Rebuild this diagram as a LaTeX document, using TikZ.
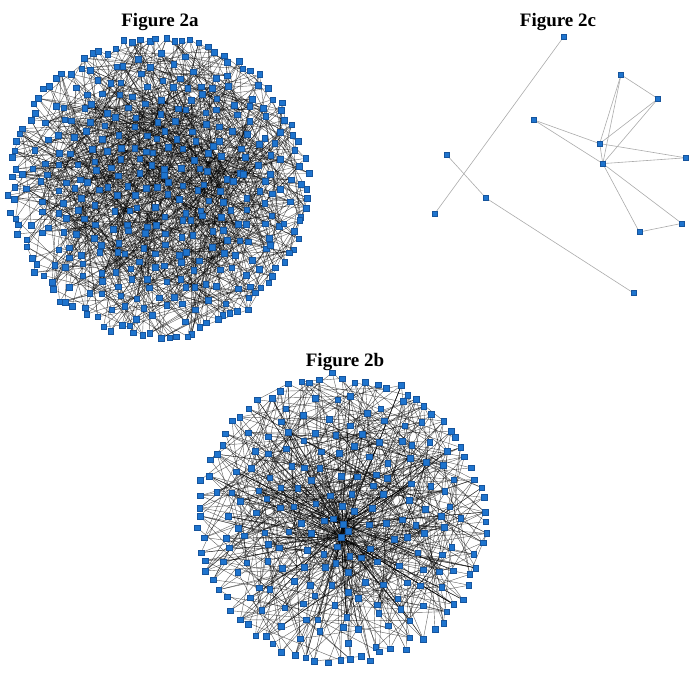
\documentclass[tikz,border=0pt]{standalone}
\usepackage{fontspec}
\setmainfont{Liberation Serif}
\usetikzlibrary{backgrounds}
\definecolor{nodeblue}{RGB}{30,116,206}
\definecolor{nodeedge}{RGB}{22,84,156}
\begin{document}
\begin{tikzpicture}[x=1pt,y=-1pt,
  nd/.style={rectangle,fill=nodeblue,draw=nodeedge,line width=0.3pt,minimum size=5.6pt,inner sep=0pt},
  ndc/.style={nd,minimum size=5pt},
  lk/.style={line width=0.4pt,draw=black,opacity=0.62},
  hub/.style={line width=0.45pt,draw=black,opacity=0.7},
  lkc/.style={line width=0.6pt,draw=black!33},
  ttl/.style={font=\bfseries\fontsize{19}{20}\selectfont}]
\useasboundingbox (0,0) rectangle (700,675);

% titles
\node[ttl,anchor=base] (t2a) at (160,26) {Figure 2a};
\node[ttl,anchor=base] (t2c) at (558,26) {Figure 2c};
\node[ttl,anchor=base] (t2b) at (345,366) {Figure 2b};

% ---------------- Figure 2a ----------------
\pgfmathsetseed{4711}
\foreach \k in {1,...,275} {
  \pgfmathsetmacro\rr{134*sqrt((\k-0.5)/275)}
  \pgfmathsetmacro\th{360*(\k*0.381966-floor(\k*0.381966))}
  \pgfmathsetmacro\jx{10*rnd-5}
  \pgfmathsetmacro\jy{10*rnd-5}
  \node[nd] (a\k) at ({158.5+\rr*cos(\th)+\jx},{187.5+\rr*sin(\th)+\jy}) {};
}
\foreach \k in {276,...,385} {
  \pgfmathsetmacro\th{(\k-276)*3.2727+2*rnd}
  \pgfmathsetmacro\rr{141+11*rnd}
  \node[nd] (a\k) at ({158.5+\rr*cos(\th)},{187.5+\rr*sin(\th)}) {};
}
\begin{pgfonlayer}{background}
\foreach \e in {1,...,850} {
  \pgfmathrandominteger{\p}{1}{385}
  \pgfmathrandominteger{\q}{1}{385}
  \draw[lk] (a\p) -- (a\q);
}
\end{pgfonlayer}

% ---------------- Figure 2b ----------------
\pgfmathsetseed{9173}
\foreach \k in {1,...,155} {
  \pgfmathsetmacro\rr{128*sqrt((\k-0.5)/155)}
  \pgfmathsetmacro\th{360*(\k*0.381966-floor(\k*0.381966))}
  \pgfmathsetmacro\jx{11*rnd-5.5}
  \pgfmathsetmacro\jy{11*rnd-5.5}
  \node[nd] (b\k) at ({341+\rr*cos(\th)+\jx},{519+\rr*sin(\th)+\jy}) {};
}
\foreach \k in {156,...,235} {
  \pgfmathsetmacro\th{(\k-156)*4.5+2*rnd}
  \pgfmathsetmacro\rr{137+10*rnd}
  \node[nd] (b\k) at ({341+\rr*cos(\th)},{519+\rr*sin(\th)}) {};
}
\node[nd] (bh1) at (343,524) {};
\node[nd] (bh2) at (341,537) {};
\begin{pgfonlayer}{background}
\foreach \e in {1,...,470} {
  \pgfmathrandominteger{\p}{1}{235}
  \pgfmathrandominteger{\q}{1}{235}
  \draw[lk] (b\p) -- (b\q);
}
\foreach \e in {1,...,70} {
  \pgfmathrandominteger{\p}{1}{235}
  \draw[hub] (bh1) -- (b\p);
  \pgfmathrandominteger{\q}{1}{235}
  \draw[hub] (bh2) -- (b\q);
}
\end{pgfonlayer}

% ---------------- Figure 2c ----------------
\node[ndc] (cA) at (563.6,36.9) {};
\node[ndc] (cB) at (621,74.7) {};
\node[ndc] (cC) at (658,98.7) {};
\node[ndc] (cD) at (534,120) {};
\node[ndc] (cE) at (599.7,143.6) {};
\node[ndc] (cF) at (685.5,157.8) {};
\node[ndc] (cG) at (602.8,163.6) {};
\node[ndc] (cH) at (446.4,154.5) {};
\node[ndc] (cI) at (485.9,198) {};
\node[ndc] (cJ) at (434.5,214) {};
\node[ndc] (cK) at (681.8,223.4) {};
\node[ndc] (cL) at (639.3,232) {};
\node[ndc] (cM) at (633.5,293) {};
\begin{pgfonlayer}{background}
\draw[lkc] (cA) -- (cJ);
\draw[lkc] (cH) -- (cI);
\draw[lkc] (cI) -- (cM);
\draw[lkc] (cB) -- (cC);
\draw[lkc] (cB) -- (cE);
\draw[lkc] (cB) -- (cG);
\draw[lkc] (cC) -- (cE);
\draw[lkc] (cC) -- (cG);
\draw[lkc] (cD) -- (cE);
\draw[lkc] (cD) -- (cG);
\draw[lkc] (cE) -- (cF);
\draw[lkc] (cG) -- (cF);
\draw[lkc] (cE) -- (cG);
\draw[lkc] (cG) -- (cK);
\draw[lkc] (cG) -- (cL);
\draw[lkc] (cL) -- (cK);
\end{pgfonlayer}
\end{tikzpicture}
\end{document}
